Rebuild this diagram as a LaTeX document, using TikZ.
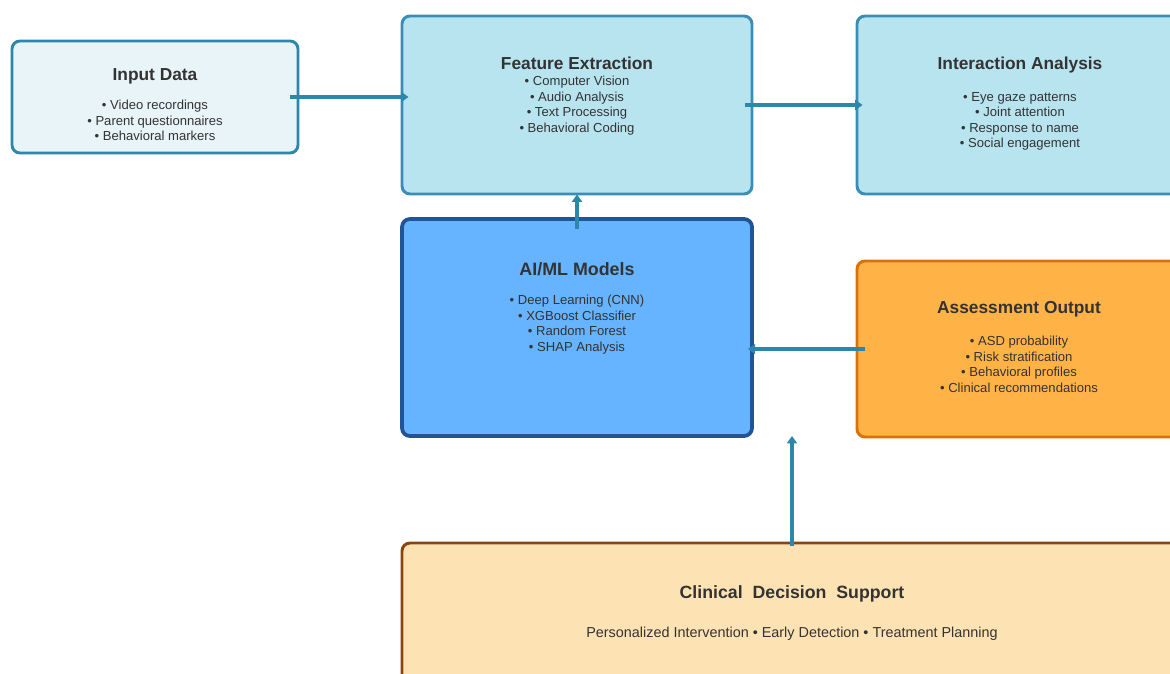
\documentclass[tikz,border=0pt]{standalone}
\usepackage{fontspec}
\setmainfont{Liberation Sans}
\usetikzlibrary{calc,arrows.meta}
\definecolor{inpfill}{HTML}{E8F4F8}
\definecolor{inpdraw}{HTML}{2E86AB}
\definecolor{fefill}{HTML}{B8E4F0}
\definecolor{fedraw}{HTML}{3A8DB5}
\definecolor{aifill}{HTML}{66B3FF}
\definecolor{aidraw}{HTML}{1F5595}
\definecolor{aofill}{HTML}{FFB347}
\definecolor{aodraw}{HTML}{D9720B}
\definecolor{cdsfill}{HTML}{FDE3B3}
\definecolor{cdsdraw}{HTML}{8B4513}
\definecolor{arrcol}{HTML}{2E86AB}
\definecolor{txt}{HTML}{333333}
\tikzset{
  box/.style={rectangle, rounded corners=6pt, line width=2.2pt, inner sep=0pt},
  ttl/.style={font=\fontsize{13}{15}\selectfont\bfseries, text=txt, inner sep=0pt},
  bul/.style={font=\fontsize{9.8}{11.6}\selectfont, text=txt, align=center, inner sep=0pt},
  arr/.style={draw=arrcol, line width=2.3pt, -{Triangle[length=5.5pt,width=7.5pt]}}
}
\begin{document}
\begin{tikzpicture}[x=0.75pt,y=-0.75pt]
\useasboundingbox (0,0) rectangle (1170,674);
\clip (0,0) rectangle (1170,674);
% boxes
\node[box, fill=inpfill, draw=inpdraw, minimum width=214.5pt, minimum height=84pt] (inp) at (155,97) {};
\node[box, fill=fefill, draw=fedraw, minimum width=262.5pt, minimum height=133.5pt] (fe) at (577,105) {};
\node[box, fill=fefill, draw=fedraw, minimum width=262.5pt, minimum height=133.5pt] (ia) at (1032,105) {};
\node[box, fill=aifill, draw=aidraw, line width=2.8pt, minimum width=262.5pt, minimum height=162.75pt] (ai) at (577,327.5) {};
\node[box, fill=aofill, draw=aodraw, minimum width=262.5pt, minimum height=132pt] (ao) at (1032,349) {};
\node[box, fill=cdsfill, draw=cdsdraw, minimum width=585pt, minimum height=150pt] (cds) at (792,643) {};
% texts
\node[ttl] (inpT) at (155,76) {Input Data};
\node[bul, anchor=north] (inpB) at (155,100) {• Video recordings\\• Parent questionnaires\\• Behavioral markers};
\node[ttl] (feT) at (577,63) {Feature Extraction};
\node[bul, anchor=north] (feB) at (577,76) {• Computer Vision\\• Audio Analysis\\• Text Processing\\• Behavioral Coding};
\node[ttl] (iaT) at (1020,65) {Interaction Analysis};
\node[bul, anchor=north] (iaB) at (1020,92) {• Eye gaze patterns\\• Joint attention\\• Response to name\\• Social engagement};
\node[ttl, font=\fontsize{13.4}{15}\selectfont\bfseries] (aiT) at (577,269) {AI/ML Models};
\node[bul, anchor=north] (aiB) at (577,295) {• Deep Learning (CNN)\\• XGBoost Classifier\\• Random Forest\\• SHAP Analysis};
\node[ttl] (aoT) at (1019,309) {Assessment Output};
\node[bul, anchor=north] (aoB) at (1019,336) {• ASD probability\\• Risk stratification\\• Behavioral profiles\\• Clinical recommendations};
\node[ttl, font=\fontsize{13.3}{15}\selectfont\bfseries] (cdsT) at (792,594) {Clinical\ \ Decision\ \ Support};
\node[bul, font=\fontsize{10.8}{13}\selectfont] (cdsB) at (792,634) {Personalized Intervention • Early Detection • Treatment Planning};
% connectors
\coordinate (cdsTip) at (792,436);
\draw[arr] ($(inp.east)+(-9,0)$) -- ($(fe.west|-inp.east)+(8,0)$);
\draw[arr] ($(fe.east)+(-8,0)$) -- ($(ia.west)+(7,0)$);
\draw[arr] ($(ai.north)+(0,12)$) -- ($(fe.south)+(0,-1)$);
\draw[arr] ($(ao.west)+(9,0)$) -- ($(ai.east|-ao.west)+(-6,0)$);
\draw[arr] ($(cds.north)+(0,4)$) -- (cdsTip);
\end{tikzpicture}
\end{document}
